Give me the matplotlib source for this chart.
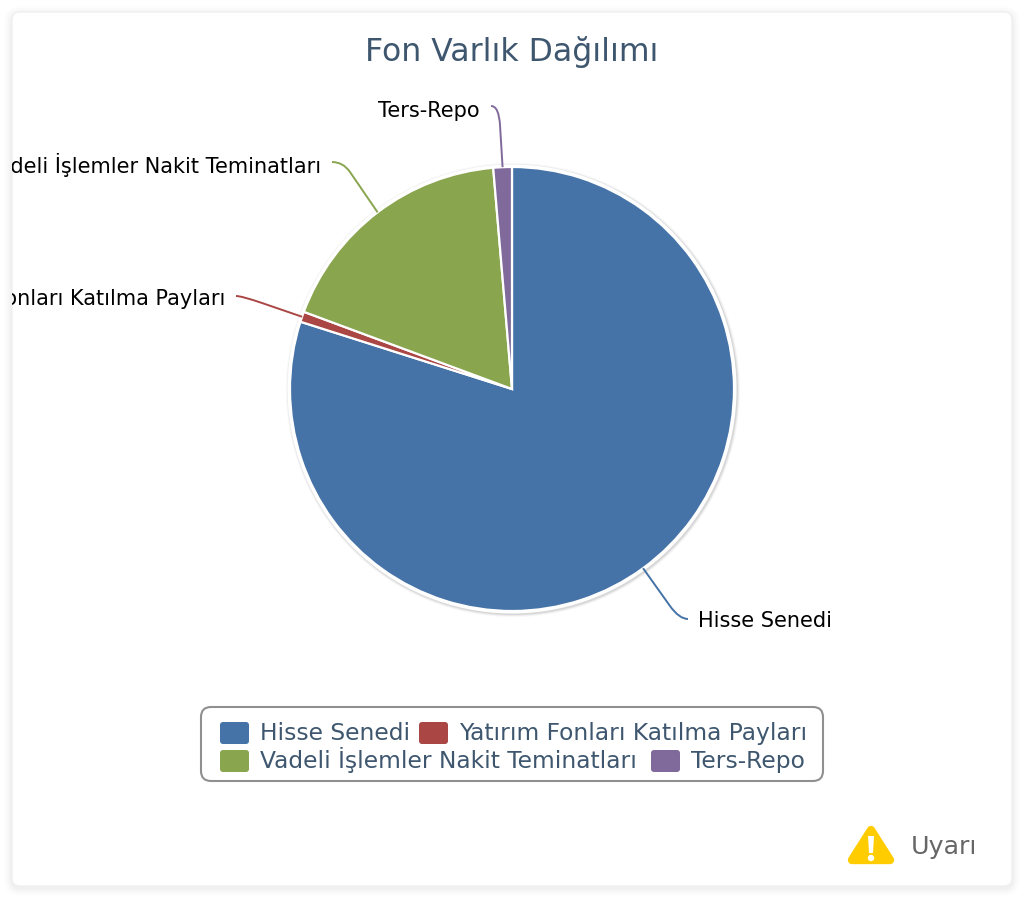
import numpy as np
import matplotlib
matplotlib.use("Agg")
import matplotlib.pyplot as plt
from matplotlib.patches import Circle, FancyBboxPatch, PathPatch, Polygon
from matplotlib.path import Path
from matplotlib.transforms import Bbox, TransformedBbox

W, H = 1024, 902

categories = [
    "Hisse Senedi",
    "Yatırım Fonları Katılma Payları",
    "Vadeli İşlemler Nakit Teminatları",
    "Ters-Repo",
]
values = [79.9, 0.75, 18.0, 1.35]
colors = ["#4572A7", "#AA4643", "#89A54E", "#80699B"]

title = "Fon Varlık Dağılımı"
warning_label = "Uyarı"

CX, CY, R = 512, 389, 222

# end of each leader line, where its curve begins, label baseline (pixels)
leader_ends = [(688, 619), (236, 296), (332, 162), (491, 106)]
leader_elbows = [(670, 606), (262, 303), (350, 172), (500, 125)]
label_baselines = [627, 305, 173, 117]
legend_slots = [(220, 733), (419, 733), (220, 761), (651, 761)]


def y(py):
    return H - py


def rbox(ax, x0, y0, x1, y1, r, **kw):
    box = FancyBboxPatch(
        (x0 + r, y(y1) + r),
        x1 - x0 - 2 * r,
        y1 - y0 - 2 * r,
        boxstyle=f"round,pad={r},rounding_size={r}",
        **kw,
    )
    ax.add_patch(box)
    return box


plt.rcParams["font.family"] = ["DejaVu Sans"]

fig = plt.figure(figsize=(W / 100, H / 100), dpi=100)
ax = fig.add_axes([0, 0, 1, 1])
ax.set_xlim(0, W)
ax.set_ylim(0, H)
ax.axis("off")

# card with a soft shadow
for pad, a in [(8, 0.008), (6, 0.012), (4, 0.016), (2, 0.024)]:
    rbox(ax, 12 - pad, 12 - pad + 2, 1012 + pad, 886 + pad + 2, 8 + pad,
         fc="black", ec="none", alpha=a, zorder=1)
card = rbox(ax, 12, 12, 1012, 886, 8, fc="white", ec="#f0f0f0", lw=1, zorder=2)

ax.text(512, y(61), title, color="#3E576F", fontsize=22.7, ha="center",
        va="baseline", zorder=5)

# pie shadow and white rim
for pad, a in [(5, 0.03), (4, 0.05), (3, 0.08)]:
    ax.add_patch(Circle((CX + 1, y(CY) - 1), R + pad, fc="black", ec="none",
                        alpha=a, zorder=3))
ax.add_patch(Circle((CX, y(CY)), R + 2.5, fc="white", ec="none", zorder=3))

wedges, _ = ax.pie(
    values,
    colors=colors,
    startangle=90,
    counterclock=False,
    center=(CX, y(CY)),
    radius=R,
    frame=False,
    wedgeprops={"edgecolor": "white", "linewidth": 1.6, "zorder": 4},
)
ax.set_xlim(0, W)
ax.set_ylim(0, H)
ax.set_aspect("auto")

# labels run off the left side of the card in the original
clip = TransformedBbox(Bbox([[12, 0], [1012, H]]), ax.transData)

# leader lines + labels
for wedge, name, col, end, elbow, base in zip(
    wedges, categories, colors, leader_ends, leader_elbows, label_baselines
):
    mid = np.deg2rad((wedge.theta1 + wedge.theta2) / 2)
    sx, sy = CX + R * np.cos(mid), y(CY) + R * np.sin(mid)
    ex, ey = end[0], y(end[1])
    bx, by = elbow[0], y(elbow[1])
    # keep the bend smooth: control point carries on along the straight part
    t = (ey - by) / (by - sy)
    ctrl = (bx + t * (bx - sx), ey)
    path = Path([(sx, sy), (bx, by), ctrl, (ex, ey)],
                [Path.MOVETO, Path.LINETO, Path.CURVE3, Path.CURVE3])
    ax.add_patch(PathPatch(path, fc="none", ec=col, lw=1.4, zorder=5))
    right = ex > CX
    label = ax.text(ex + (10 if right else -11), y(base), name,
                    color="black", fontsize=15,
                    ha="left" if right else "right", va="baseline", zorder=5)
    label.set_clip_on(True)
    label.set_clip_box(clip)

# legend
rbox(ax, 201, 707, 823, 781, 10, fc="white", ec="#909090", lw=1.5, zorder=5)
for name, col, (sx, sy) in zip(categories, colors, legend_slots):
    rbox(ax, sx, sy - 11, sx + 29, sy + 11, 3, fc=col, ec="none", zorder=6)
    ax.text(sx + 40, y(sy + 7), name, color="#3E576F", fontsize=16.8, ha="left",
            va="baseline", zorder=6)

# warning icon
ax.add_patch(Polygon([(871, y(830)), (852, y(860)), (890, y(860))], closed=True,
                     fc="#FFCC00", ec="#FFCC00", lw=6, joinstyle="round", zorder=5))
ax.add_patch(Polygon([(868, y(836)), (874, y(836)), (873, y(853)), (869, y(853))],
                     closed=True, fc="white", ec="none", zorder=6))
ax.add_patch(Circle((871, y(858)), 3.2, fc="white", ec="none", zorder=6))
ax.text(911, y(854), warning_label, color="#666666", fontsize=18.2, ha="left",
        va="baseline", zorder=5)

fig.savefig("out.png", dpi=100)
